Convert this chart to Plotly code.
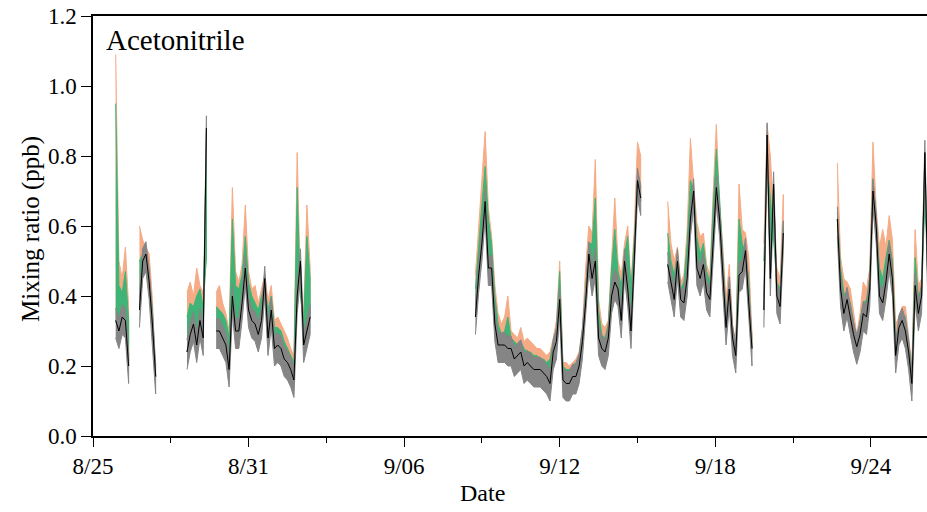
import plotly.graph_objects as go
from datetime import datetime, timedelta

# ---------------- data ----------------
seg_start = ["2019-08-25 21:00", "2019-08-26 19:00", "2019-08-28 15:00", "2019-08-29 18:00",
             "2019-09-08 18:00", "2019-09-16 04:00", "2019-09-19 21:00", "2019-09-22 17:00"]
step_hours = 3

black_a = [0.33, 0.30, 0.34, 0.33, 0.20]
green_a = [0.95, 0.43, 0.41, 0.47, 0.33]
orange_a = [1.09, 0.50, 0.45, 0.54, 0.37]

black_b = [0.36, 0.50, 0.52, 0.44, 0.32, 0.17]
green_b = [0.50, 0.52, 0.50, 0.46, 0.36, 0.18]
orange_b = [0.60, 0.56, 0.54, 0.52, 0.39, 0.19]

black_c = [0.24, 0.29, 0.32, 0.26, 0.33, 0.28, 0.88]
green_c = [0.34, 0.38, 0.37, 0.40, 0.42, 0.37, 0.51]
orange_c = [0.41, 0.44, 0.40, 0.48, 0.43, 0.41, 0.51]

black_d = [0.30, 0.30, 0.28, 0.26, 0.19, 0.40, 0.30, 0.30, 0.38, 0.48,
           0.36, 0.33, 0.32, 0.29, 0.33, 0.45, 0.28, 0.36, 0.25, 0.26,
           0.25, 0.22, 0.21, 0.19, 0.16, 0.40, 0.50, 0.26, 0.30, 0.34]
green_d = [0.37, 0.36, 0.35, 0.33, 0.28, 0.62, 0.43, 0.42, 0.46, 0.57,
           0.44, 0.40, 0.38, 0.36, 0.40, 0.43, 0.36, 0.40, 0.31, 0.31,
           0.30, 0.27, 0.25, 0.23, 0.21, 0.71, 0.40, 0.33, 0.57, 0.45]
orange_d = [0.41, 0.43, 0.38, 0.35, 0.30, 0.71, 0.47, 0.44, 0.49, 0.66,
            0.47, 0.42, 0.43, 0.38, 0.42, 0.46, 0.39, 0.43, 0.33, 0.34,
            0.32, 0.30, 0.28, 0.25, 0.23, 0.81, 0.43, 0.35, 0.66, 0.48]

black_e = [0.34, 0.46, 0.55, 0.67, 0.48, 0.48, 0.32, 0.26, 0.26, 0.26,
           0.25, 0.25, 0.22, 0.23, 0.24, 0.20, 0.21, 0.20, 0.19, 0.19,
           0.19, 0.18, 0.17, 0.15, 0.24, 0.27, 0.39, 0.16, 0.15, 0.15,
           0.17, 0.17, 0.20, 0.27, 0.38, 0.52, 0.45, 0.50, 0.28, 0.25,
           0.24, 0.28, 0.40, 0.44, 0.42, 0.33, 0.50, 0.42, 0.30, 0.50,
           0.73, 0.68]
green_e = [0.42, 0.55, 0.66, 0.77, 0.62, 0.55, 0.40, 0.32, 0.29, 0.30,
           0.34, 0.28, 0.27, 0.26, 0.27, 0.25, 0.24, 0.24, 0.23, 0.23,
           0.22, 0.22, 0.21, 0.22, 0.27, 0.31, 0.47, 0.20, 0.19, 0.19,
           0.20, 0.21, 0.23, 0.30, 0.42, 0.55, 0.55, 0.68, 0.36, 0.29,
           0.28, 0.32, 0.48, 0.59, 0.47, 0.43, 0.52, 0.57, 0.42, 0.55,
           0.70, 0.67]
orange_e = [0.46, 0.60, 0.76, 0.87, 0.65, 0.57, 0.43, 0.35, 0.32, 0.34,
            0.40, 0.30, 0.29, 0.28, 0.31, 0.27, 0.28, 0.27, 0.26, 0.25,
            0.25, 0.24, 0.23, 0.24, 0.28, 0.33, 0.50, 0.21, 0.21, 0.20,
            0.21, 0.22, 0.24, 0.31, 0.48, 0.60, 0.58, 0.79, 0.39, 0.32,
            0.31, 0.33, 0.50, 0.68, 0.50, 0.46, 0.55, 0.60, 0.43, 0.59,
            0.84, 0.80]

black_f = [0.49, 0.44, 0.39, 0.50, 0.39, 0.38, 0.45, 0.62, 0.70, 0.48,
           0.45, 0.49, 0.41, 0.39, 0.55, 0.71, 0.62, 0.46, 0.31, 0.42,
           0.28, 0.23, 0.46, 0.47, 0.53, 0.38, 0.25]
green_f = [0.58, 0.50, 0.46, 0.52, 0.42, 0.44, 0.55, 0.73, 0.70, 0.57,
           0.52, 0.55, 0.47, 0.44, 0.65, 0.82, 0.68, 0.50, 0.35, 0.43,
           0.30, 0.24, 0.62, 0.55, 0.52, 0.45, 0.28]
orange_f = [0.67, 0.55, 0.50, 0.54, 0.44, 0.46, 0.59, 0.85, 0.72, 0.61,
            0.57, 0.58, 0.49, 0.46, 0.69, 0.89, 0.66, 0.54, 0.39, 0.49,
            0.32, 0.26, 0.72, 0.59, 0.58, 0.51, 0.29]

black_g = [0.36, 0.86, 0.45, 0.72, 0.40, 0.37, 0.58]
green_g = [0.50, 0.77, 0.68, 0.55, 0.44, 0.42, 0.60]
orange_g = [0.55, 0.89, 0.80, 0.62, 0.48, 0.45, 0.69]

black_h = [0.62, 0.42, 0.35, 0.39, 0.34, 0.29, 0.255, 0.29, 0.35, 0.34,
           0.42, 0.70, 0.60, 0.40, 0.38, 0.44, 0.52, 0.45, 0.23, 0.31,
           0.33, 0.30, 0.24, 0.15, 0.43, 0.35, 0.40, 0.81, 0.39]
green_h = [0.64, 0.48, 0.41, 0.40, 0.38, 0.33, 0.27, 0.33, 0.38, 0.39,
           0.45, 0.73, 0.62, 0.48, 0.45, 0.51, 0.56, 0.50, 0.28, 0.32,
           0.35, 0.34, 0.26, 0.19, 0.51, 0.40, 0.42, 0.66, 0.50]
orange_h = [0.78, 0.51, 0.45, 0.44, 0.42, 0.35, 0.29, 0.35, 0.44, 0.42,
            0.48, 0.84, 0.65, 0.54, 0.59, 0.54, 0.63, 0.56, 0.32, 0.34,
            0.37, 0.37, 0.28, 0.20, 0.59, 0.43, 0.45, 0.72, 0.48]

grey_below = 0.05    # grey uncertainty band below the black line
grey_above = 0.035   # grey uncertainty band above the black line

x_tick_vals = ["2019-08-25", "2019-08-31", "2019-09-06", "2019-09-12", "2019-09-18", "2019-09-24"]
x_tick_text = ["8/25", "8/31", "9/06", "9/12", "9/18", "9/24"]
x_minor_vals = ["2019-08-28", "2019-09-03", "2019-09-09", "2019-09-15", "2019-09-21", "2019-09-27"]
y_tick_vals = [0.0, 0.2, 0.4, 0.6, 0.8, 1.0, 1.2]

# ---------------- styling ----------------
C_ORANGE = "#F5AB85"
C_GREEN = "#40B476"
C_GREY = "#858585"
FONT = "Liberation Serif"

blacks = [black_a, black_b, black_c, black_d, black_e, black_f, black_g, black_h]
greens = [green_a, green_b, green_c, green_d, green_e, green_f, green_g, green_h]
oranges = [orange_a, orange_b, orange_c, orange_d, orange_e, orange_f, orange_g, orange_h]

fig = go.Figure()


def poly(t, upper, lower, color):
    fig.add_trace(go.Scatter(
        x=t + t[::-1], y=upper + lower[::-1], fill="toself", mode="lines",
        fillcolor=color, line=dict(color=color, width=1),
        hoverinfo="skip", showlegend=False))


for k, start in enumerate(seg_start):
    t0 = datetime.strptime(start, "%Y-%m-%d %H:%M")
    b, g, o = blacks[k], greens[k], oranges[k]
    t = [t0 + timedelta(hours=step_hours * i) for i in range(len(b))]
    poly(t, o, b, C_ORANGE)
    poly(t, g, b, C_GREEN)
    poly(t, [v + grey_above for v in b], [v - grey_below for v in b], C_GREY)
    fig.add_trace(go.Scatter(x=t, y=b, mode="lines", line=dict(color="black", width=1),
                             hoverinfo="skip", showlegend=False))

fig.update_layout(
    width=927, height=512,
    margin=dict(l=93, r=0, t=16, b=76),
    paper_bgcolor="white", plot_bgcolor="white",
    font=dict(family=FONT, size=23, color="black"),
    showlegend=False,
)
fig.update_xaxes(
    type="date", range=["2019-08-25 00:00", "2019-09-26 04:00"],
    tickmode="array", tickvals=x_tick_vals, ticktext=x_tick_text,
    ticks="outside", ticklen=9, tickwidth=1.2, tickcolor="black",
    minor=dict(tickmode="array", tickvals=x_minor_vals, ticks="outside",
               ticklen=5, tickwidth=1.2, tickcolor="black", showgrid=False),
    showline=True, linecolor="black", linewidth=1.5, mirror=True,
    showgrid=False, zeroline=False,
    tickfont=dict(family=FONT, size=23),
)
fig.update_yaxes(
    range=[0, 1.2], tickmode="array", tickvals=y_tick_vals, tickformat=".1f",
    ticks="outside", ticklen=10, tickwidth=1.2, tickcolor="black",
    showline=True, linecolor="black", linewidth=1.5, mirror=False,
    showgrid=False, zeroline=False,
    tickfont=dict(family=FONT, size=23),
)

fig.add_annotation(text="Acetonitrile", xref="paper", yref="paper",
                   x=(104 - 93) / 834, y=(436 - 40) / 420, xanchor="left", yanchor="middle",
                   showarrow=False, font=dict(family=FONT, size=29))
fig.add_annotation(text="Mixing ratio (ppb)", xref="paper", yref="paper",
                   x=(31 - 93) / 834, y=(436 - 229) / 420, xanchor="center", yanchor="middle",
                   textangle=-90, showarrow=False, font=dict(family=FONT, size=25))
fig.add_annotation(text="Date", xref="paper", yref="paper",
                   x=(482 - 93) / 834, y=-(493 - 436) / 420, xanchor="center", yanchor="middle",
                   showarrow=False, font=dict(family=FONT, size=24))

fig.write_html("out.html")
